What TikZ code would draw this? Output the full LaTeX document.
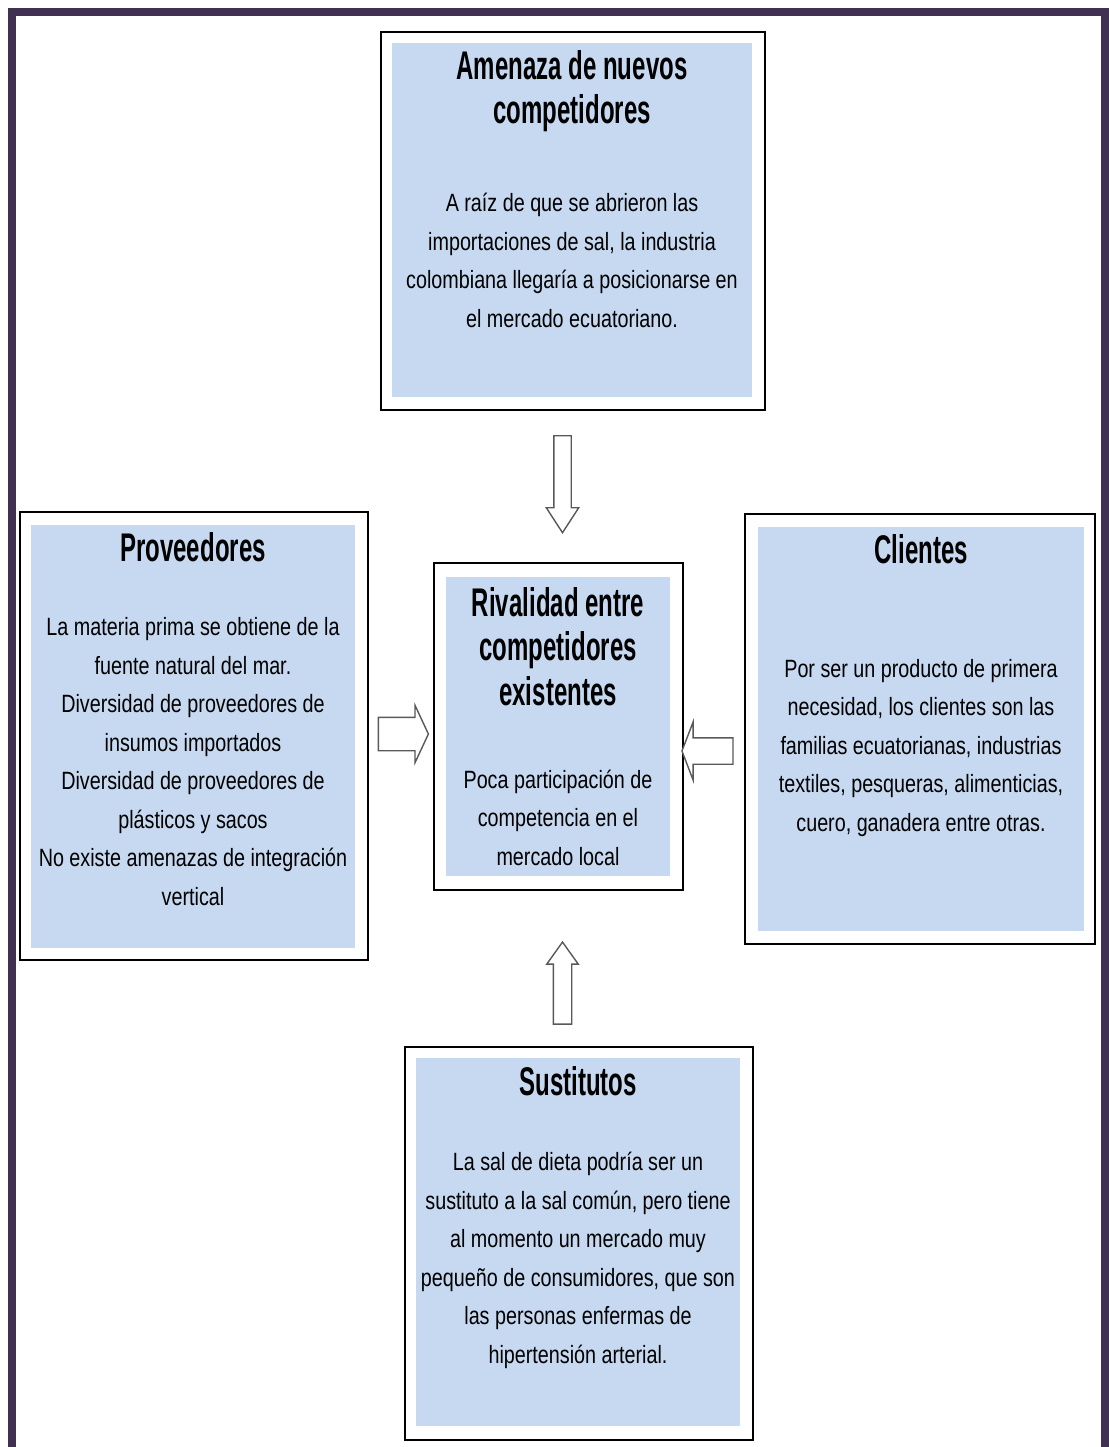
\documentclass[tikz,border=0pt]{standalone}
\usepackage{fontspec}
\setmainfont{Liberation Sans}
\newfontfamily\bodyfont[FakeStretch=0.79]{Liberation Sans}
\newfontfamily\headfont[FakeStretch=0.6]{Liberation Sans}
\usetikzlibrary{shapes.arrows}
\definecolor{frameviolet}{RGB}{64,49,82}
\definecolor{boxblue}{RGB}{198,217,240}

\begin{document}
\begin{tikzpicture}[
        x = 1pt, y = -1pt,
        outer/.style = {draw = black, line width = 1.6pt, fill = white, inner sep = 0pt},
        inner/.style = {fill = boxblue, inner sep = 0pt},
        title/.style = {anchor = base, align = center, inner sep = 0pt,
            font = \headfont\bfseries\fontsize{40}{44.3}\selectfont},
        body/.style = {anchor = base, align = center, inner sep = 0pt,
            font = \bodyfont\fontsize{25}{38.5}\selectfont},
        block/.style = {single arrow, draw = black!65, line width = 1.4pt, fill = white}
    ]
    \useasboundingbox (0,0) rectangle (1108,1447);
    \draw[frameviolet, line width = 8pt] (12,12) rectangle (1104.5,1452);

    % Amenaza de nuevos competidores
    \node[outer, minimum width = 384pt, minimum height = 378pt] (amenazaBox) at (573,221) {};
    \node[inner, minimum width = 360pt, minimum height = 354pt] (amenaza) at (572,220) {};
    \node[title] (amenazaTit) at (572,124) {Amenaza de nuevos\\competidores};
    \node[body] (amenazaTxt) at (572,327) {A raíz de que se abrieron las\\importaciones de sal, la industria\\colombiana llegaría a posicionarse en\\el mercado ecuatoriano.};

    % Proveedores
    \node[outer, minimum width = 348pt, minimum height = 448pt] (provBox) at (194,736) {};
    \node[inner, minimum width = 324pt, minimum height = 423pt] (prov) at (193,736.5) {};
    \node[title] (provTit) at (193,561) {Proveedores};
    \node[body] (provTxt) at (193,905) {La materia prima se obtiene de la\\fuente natural del mar.\\Diversidad de proveedores de\\insumos importados\\Diversidad de proveedores de\\plásticos y sacos\\No existe amenazas de integración\\vertical};

    % Rivalidad
    \node[outer, minimum width = 249pt, minimum height = 327pt] (rivBox) at (558.5,726.5) {};
    \node[inner, minimum width = 224pt, minimum height = 299pt] (riv) at (558,726.5) {};
    \node[title] (rivTit) at (558,705) {Rivalidad entre\\competidores\\existentes};
    \node[body] (rivTxt) at (558,865) {Poca participación de\\competencia en el\\mercado local};

    % Clientes
    \node[outer, minimum width = 350pt, minimum height = 430pt] (cliBox) at (920,729) {};
    \node[inner, minimum width = 326pt, minimum height = 404pt] (cli) at (921,729) {};
    \node[title] (cliTit) at (921,563) {Clientes};
    \node[body] (cliTxt) at (921,831) {Por ser un producto de primera\\necesidad, los clientes son las\\familias ecuatorianas, industrias\\textiles, pesqueras, alimenticias,\\cuero, ganadera entre otras.};

    % Sustitutos
    \node[outer, minimum width = 348pt, minimum height = 393pt] (susBox) at (579,1243.5) {};
    \node[inner, minimum width = 324pt, minimum height = 368pt] (sus) at (578,1242) {};
    \node[title] (susTit) at (578,1095) {Sustitutos};
    \node[body] (susTxt) at (578,1363) {La sal de dieta podría ser un\\sustituto a la sal común, pero tiene\\al momento un mercado muy\\pequeño de consumidores, que son\\las personas enfermas de\\hipertensión arterial.};

    % flechas
    \node[block, minimum height = 97pt, minimum width = 31pt, inner sep = 8pt,
        single arrow head extend = 7.5pt, single arrow tip angle = 66,
        shape border rotate = 270] (amenazaArr) at (562.5,477.5) {};
    \node[block, minimum height = 50pt, minimum width = 56pt, inner sep = 16pt,
        single arrow head extend = 12pt, single arrow tip angle = 130] (provArr) at (399.5,734) {};
    \node[block, minimum height = 51pt, minimum width = 57pt, inner sep = 12.5pt,
        single arrow head extend = 16pt, single arrow tip angle = 138,
        shape border rotate = 180] (cliArr) at (710,751) {};
    \node[block, minimum height = 82pt, minimum width = 30pt, inner sep = 8.5pt,
        single arrow head extend = 6.5pt, single arrow tip angle = 71,
        shape border rotate = 90] (susArr) at (562.5,989.5) {};
\end{tikzpicture}
\end{document}
